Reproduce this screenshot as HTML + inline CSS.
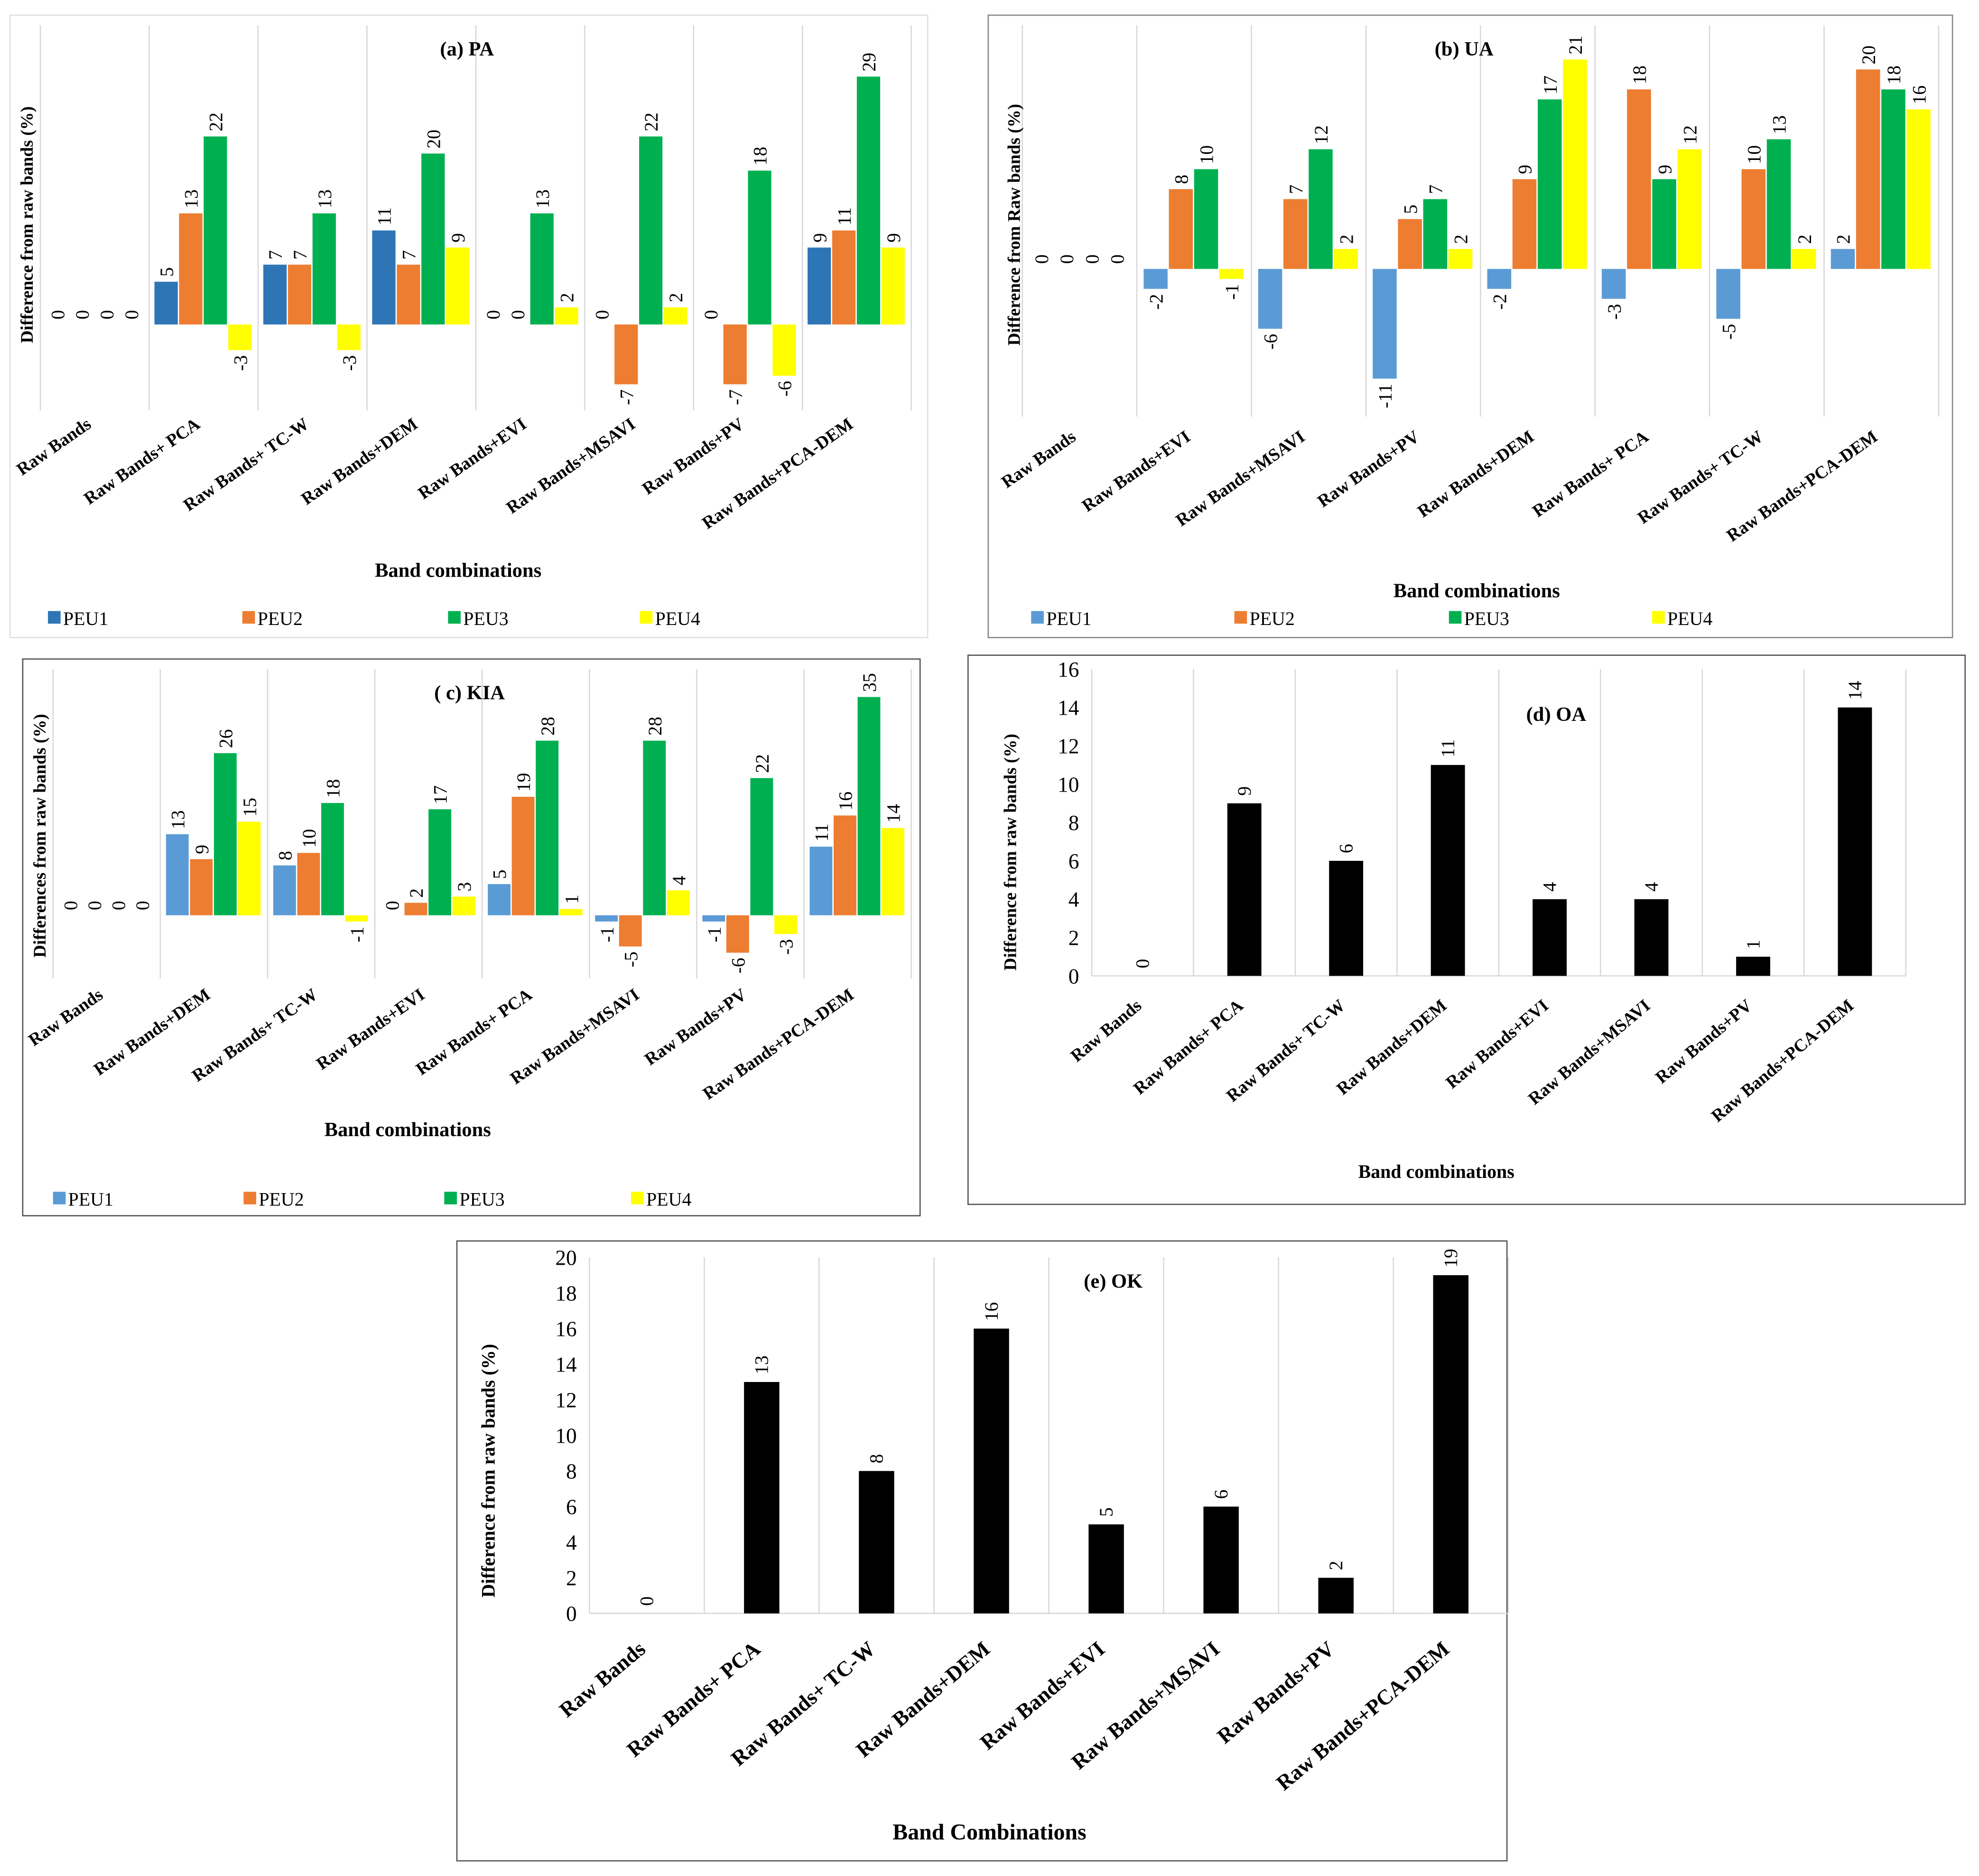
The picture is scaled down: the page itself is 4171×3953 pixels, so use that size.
<!DOCTYPE html>
<html><head><meta charset="utf-8"><style>
html,body{margin:0;padding:0;background:#fff}
svg{display:block}
text{font-family:"Liberation Serif",serif}
</style></head><body>
<svg id="s" xmlns="http://www.w3.org/2000/svg" width="4171" height="3953" viewBox="0 0 1568 1486">
<rect x="0" y="0" width="1568" height="1486" fill="#fff"/>
<rect x="8" y="12" width="727" height="493" fill="none" stroke="#e0e0e0" stroke-width="1"/>
<rect x="783" y="12" width="764" height="493" fill="none" stroke="#888" stroke-width="1"/>
<rect x="18" y="522" width="711" height="441" fill="none" stroke="#555" stroke-width="1"/>
<rect x="767" y="519" width="790" height="435" fill="none" stroke="#555" stroke-width="1"/>
<rect x="362" y="983" width="832" height="491" fill="none" stroke="#555" stroke-width="1"/>
<g id="ga"></g>
<g id="gb"></g>
<g id="gc"></g>
<g id="gd"></g>
<g id="ge"></g>
</svg>
<script>
const seriesNames = ["PEU1","PEU2","PEU3","PEU4"];
const catsA = ["Raw Bands","Raw Bands+ PCA","Raw Bands+ TC-W","Raw Bands+DEM","Raw Bands+EVI","Raw Bands+MSAVI","Raw Bands+PV","Raw Bands+PCA-DEM"];
const a1 = [0,5,7,11,0,0,0,9];
const a2 = [0,13,7,7,0,-7,-7,11];
const a3 = [0,22,13,20,13,22,18,29];
const a4 = [0,-3,-3,9,2,2,-6,9];
const catsB = ["Raw Bands","Raw Bands+EVI","Raw Bands+MSAVI","Raw Bands+PV","Raw Bands+DEM","Raw Bands+ PCA","Raw Bands+ TC-W","Raw Bands+PCA-DEM"];
const b1 = [0,-2,-6,-11,-2,-3,-5,2];
const b2 = [0,8,7,5,9,18,10,20];
const b3 = [0,10,12,7,17,9,13,18];
const b4 = [0,-1,2,2,21,12,2,16];
const catsC = ["Raw Bands","Raw Bands+DEM","Raw Bands+ TC-W","Raw Bands+EVI","Raw Bands+ PCA","Raw Bands+MSAVI","Raw Bands+PV","Raw Bands+PCA-DEM"];
const c1 = [0,13,8,0,5,-1,-1,11];
const c2 = [0,9,10,2,19,-5,-6,16];
const c3 = [0,26,18,17,28,28,22,35];
const c4 = [0,15,-1,3,1,4,-3,14];
const catsD = ["Raw Bands","Raw Bands+ PCA","Raw Bands+ TC-W","Raw Bands+DEM","Raw Bands+EVI","Raw Bands+MSAVI","Raw Bands+PV","Raw Bands+PCA-DEM"];
const dVals = [0,9,6,11,4,4,1,14];
const dTicks = [0,2,4,6,8,10,12,14,16];
const catsE = ["Raw Bands","Raw Bands+ PCA","Raw Bands+ TC-W","Raw Bands+DEM","Raw Bands+EVI","Raw Bands+MSAVI","Raw Bands+PV","Raw Bands+PCA-DEM"];
const eVals = [0,13,8,16,5,6,2,19];
const eTicks = [0,2,4,6,8,10,12,14,16,18,20];

const NS="http://www.w3.org/2000/svg";
function el(p,tag,at,txt){const e=document.createElementNS(NS,tag);for(const k in at)e.setAttribute(k,at[k]);if(txt!==undefined)e.textContent=txt;p.appendChild(e);return e;}

function grouped(g,cfg){
  const n=cfg.cats.length, cw=(cfg.x1-cfg.x0)/n;
  const ys=v=>cfg.base-v*cfg.ppu;
  for(let i=0;i<=n;i++){const l=el(g,'line',{x1:cfg.x0+i*cw,x2:cfg.x0+i*cw,y1:cfg.gTop,y2:cfg.gBot,stroke:'#d9d9d9','stroke-width':1});
    
    }
  const bw=cfg.bw, off=(cw-4*bw)/2;
  cfg.series.forEach((vals,si)=>{
    vals.forEach((v,i)=>{
      const x=cfg.x0+i*cw+off+si*bw;
      const y=Math.min(ys(v),cfg.base), h=Math.abs(ys(v)-cfg.base);
      const r=el(g,'rect',{x:x,y:y,width:bw-1,height:h,fill:cfg.colors[si]});
      
      
      const cx=x+bw/2+5;
      let t;
      if(v>=0){t=el(g,'text',{x:cx,y:ys(v)-4,'font-size':15,'text-anchor':'start',transform:`rotate(-90 ${cx} ${ys(v)-4})`},String(v));}
      else{t=el(g,'text',{x:cx,y:ys(v)+4,'font-size':15,'text-anchor':'end',transform:`rotate(-90 ${cx} ${ys(v)+4})`},String(v));}
      
      
    });
  });
  cfg.cats.forEach((c,i)=>{const cx=cfg.x0+(i+0.5)*cw-2;
    const t=el(g,'text',{x:cx,y:cfg.labY,'font-size':14,'font-weight':'bold','text-anchor':'end',transform:`rotate(-35 ${cx} ${cfg.labY})`},c);
    
    });
  let t=el(g,'text',{x:cfg.title[0],y:cfg.title[1],'font-size':16,'font-weight':'bold','text-anchor':'middle'},cfg.title[2]);
  
  
  t=el(g,'text',{x:cfg.yt[0],y:cfg.yt[1],'font-size':14,'font-weight':'bold','text-anchor':'middle',transform:`rotate(-90 ${cfg.yt[0]} ${cfg.yt[1]})`},cfg.yt[2]);
  
  
  t=el(g,'text',{x:cfg.xt[0],y:cfg.xt[1],'font-size':16,'font-weight':'bold','text-anchor':'middle'},'Band  combinations');
  
  
  cfg.leg.forEach((lx,si)=>{
    const r=el(g,'rect',{x:lx,y:cfg.legY-11,width:10,height:10,fill:cfg.colors[si]});
    
    
    const tt=el(g,'text',{x:lx+12,y:cfg.legY,'font-size':15,'font-family':'Liberation Sans'},seriesNames[si]);
    
    
  });
}
const C1=['#2E75B6','#ED7D31','#00B050','#FFFF00'];
const C2=['#5B9BD5','#ED7D31','#00B050','#FFFF00'];
grouped(document.getElementById('ga'),{cats:catsA,series:[a1,a2,a3,a4],colors:C1,x0:32,x1:722,base:257,ppu:6.77,gTop:20,gBot:325,bw:19.5,labY:338,title:[370,44,'(a)  PA'],yt:[26,178,'Difference from raw bands (%)'],xt:[363,457],leg:[38,192,355,507],legY:495});
grouped(document.getElementById('gb'),{cats:catsB,series:[b1,b2,b3,b4],colors:C2,x0:810,x1:1536,base:213,ppu:7.9,gTop:20,gBot:330,bw:20,labY:348,title:[1160,44,'(b)  UA'],yt:[808,178,'Difference from Raw  bands  (%)'],xt:[1170,473],leg:[817,978,1148,1309],legY:495});
grouped(document.getElementById('gc'),{cats:catsC,series:[c1,c2,c3,c4],colors:C2,x0:42,x1:722,base:725,ppu:4.94,gTop:530,gBot:775,bw:19,labY:790,title:[372,554,'( c)  KIA'],yt:[36,662,'Differences from raw bands (%)'],xt:[323,900],leg:[42,193,352,500],legY:955});

function single(g,cfg){
  const n=cfg.cats.length, cw=(cfg.x1-cfg.x0)/n, top=cfg.ticks[cfg.ticks.length-1];
  const ys=v=>cfg.base-v*(cfg.base-cfg.top)/top;
  for(let i=0;i<=n;i++){const l=el(g,'line',{x1:cfg.x0+i*cw,x2:cfg.x0+i*cw,y1:cfg.top,y2:cfg.base,stroke:'#d9d9d9','stroke-width':1});
    
    }
  const ax=el(g,'line',{x1:cfg.x0,x2:cfg.x1,y1:cfg.base,y2:cfg.base,stroke:'#d9d9d9','stroke-width':1});
  
  
  cfg.ticks.forEach(tv=>{const t=el(g,'text',{x:cfg.x0-10,y:ys(tv)+6,'font-size':17,'text-anchor':'end','font-family':'Liberation Sans'},String(tv));
    
    });
  cfg.vals.forEach((v,i)=>{const cx=cfg.x0+(i+0.5)*cw;
    const r=el(g,'rect',{x:cx-cfg.bw/2,y:ys(v),width:cfg.bw,height:cfg.base-ys(v),fill:'#000'});
    
    
    const lx=cx+5,ly=ys(v)-6;
    const t=el(g,'text',{x:lx,y:ly,'font-size':15,'text-anchor':'start',transform:`rotate(-90 ${lx} ${ly})`},String(v));
    
    });
  cfg.cats.forEach((c,i)=>{const cx=cfg.x0+(i+0.5)*cw;
    const t=el(g,'text',{x:cx,y:cfg.labY,'font-size':cfg.lf,'font-weight':'bold','text-anchor':'end',transform:`rotate(-40 ${cx} ${cfg.labY})`},c);
    
    });
  let t=el(g,'text',{x:cfg.title[0],y:cfg.title[1],'font-size':16,'font-weight':'bold','text-anchor':'middle'},cfg.title[2]);
  
  
  t=el(g,'text',{x:cfg.yt[0],y:cfg.yt[1],'font-size':cfg.ytf,'font-weight':'bold','text-anchor':'middle',transform:`rotate(-90 ${cfg.yt[0]} ${cfg.yt[1]})`},'Difference from raw bands (%)');
  
  
  t=el(g,'text',{x:cfg.xt[0],y:cfg.xt[1],'font-size':cfg.xtf,'font-weight':'bold','text-anchor':'middle'},cfg.xt[2]);
  
  
}
single(document.getElementById('gd'),{cats:catsD,vals:dVals,ticks:dTicks,x0:865,x1:1510,base:773,top:530,bw:27,labY:798,lf:14,title:[1233,571,'(d) OA'],yt:[805,675],ytf:14,xt:[1138,933,'Band combinations'],xtf:15});
single(document.getElementById('ge'),{cats:catsE,vals:eVals,ticks:eTicks,x0:467,x1:1195,base:1278,top:996,bw:28,labY:1308,lf:17,title:[882,1020,'(e) OK'],yt:[392,1165],ytf:15,xt:[784,1457,'Band  Combinations'],xtf:18});
</script>
</body></html>
